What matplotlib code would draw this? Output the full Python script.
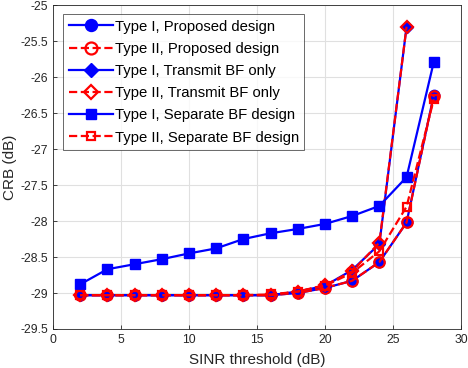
import matplotlib
matplotlib.use("Agg")
import matplotlib.pyplot as plt
import numpy as np

plt.rcParams['font.family'] = ['Liberation Sans', 'DejaVu Sans']

sinr = [2, 4, 6, 8, 10, 12, 14, 16, 18, 20, 22, 24, 26, 28]
sinr_tx = [2, 4, 6, 8, 10, 12, 14, 16, 18, 20, 22, 24, 26]

prop_I = [-29.03, -29.03, -29.03, -29.03, -29.03, -29.03, -29.03, -29.03, -29.00, -28.93, -28.83, -28.57, -28.02, -26.25]
prop_II = [-29.03, -29.03, -29.03, -29.03, -29.03, -29.03, -29.03, -29.03, -29.00, -28.93, -28.83, -28.57, -28.02, -26.26]
tx_I = [-29.03, -29.03, -29.03, -29.03, -29.03, -29.03, -29.03, -29.03, -28.98, -28.90, -28.68, -28.32, -25.30]
tx_II = [-29.03, -29.03, -29.03, -29.03, -29.03, -29.03, -29.03, -29.03, -28.98, -28.89, -28.70, -28.30, -25.30]
sep_I = [-28.88, -28.67, -28.60, -28.53, -28.45, -28.38, -28.25, -28.17, -28.11, -28.04, -27.93, -27.79, -27.39, -25.79]
sep_II = [-29.03, -29.03, -29.03, -29.03, -29.03, -29.03, -29.03, -29.02, -28.98, -28.90, -28.72, -28.42, -27.80, -26.31]

labels = ['Type I, Proposed design', 'Type II, Proposed design',
          'Type I, Transmit BF only', 'Type II, Transmit BF only',
          'Type I, Separate BF design', 'Type II, Separate BF design']

fig = plt.figure(figsize=(4.68, 3.68), dpi=100)
ax = fig.add_axes([0.113, 0.106, 0.872, 0.880])

blue = (0, 0, 1)
red = (1, 0, 0)
lw = 1.6

ax.plot(sinr, prop_I, '-', color=blue, lw=lw, marker='o', ms=7.5, mfc=blue, mec=blue, label=labels[0])
ax.plot(sinr, prop_II, '--', color=red, lw=lw, marker='o', ms=7.5, mfc='none', mec=red, mew=1.6, label=labels[1])
ax.plot(sinr_tx, tx_I, '-', color=blue, lw=lw, marker='D', ms=6.5, mfc=blue, mec=blue, label=labels[2])
ax.plot(sinr_tx, tx_II, '--', color=red, lw=lw, marker='D', ms=6.5, mfc='none', mec=red, mew=1.6, label=labels[3])
ax.plot(sinr, sep_I, '-', color=blue, lw=lw, marker='s', ms=6.5, mfc=blue, mec=blue, label=labels[4])
ax.plot(sinr, sep_II, '--', color=red, lw=lw, marker='s', ms=5.5, mfc='none', mec=red, mew=1.6, label=labels[5])

ax.set_xlim(0, 30)
ax.set_ylim(-29.5, -25)
ax.set_xticks(np.arange(0, 31, 5))
ax.set_yticks(np.arange(-29.5, -24.99, 0.5))
ax.set_yticklabels([('%g' % v) for v in np.arange(-29.5, -24.99, 0.5)])
ax.grid(True, color=(0.88, 0.88, 0.88), lw=0.8)
ax.set_axisbelow(True)
for s in ax.spines.values():
    s.set_color((0.15, 0.15, 0.15))
    s.set_linewidth(0.6)
ax.tick_params(direction='in', length=3, width=0.6, labelsize=8.7, colors=(0.15, 0.15, 0.15), top=False, right=False)
ax.set_xlabel('SINR threshold (dB)', fontsize=11, color=(0.15, 0.15, 0.15), labelpad=5)
ax.set_ylabel('CRB (dB)', fontsize=11, color=(0.15, 0.15, 0.15), labelpad=2)

leg = ax.legend(loc='upper left', bbox_to_anchor=(0.015, 0.985), fontsize=10.7, frameon=True, fancybox=False,
                edgecolor=(0.15, 0.15, 0.15), handlelength=3.0, handletextpad=0.1, borderpad=0.35,
                labelspacing=0.55, borderaxespad=0.3, markerscale=1.15)
leg.get_frame().set_linewidth(0.6)

fig.savefig('out.png', dpi=100)
